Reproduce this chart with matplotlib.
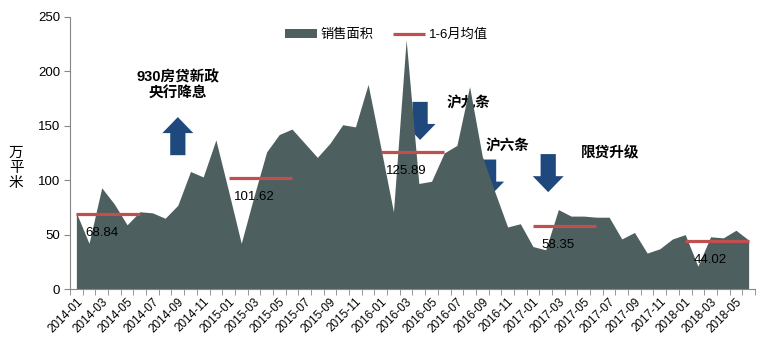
import matplotlib
matplotlib.use('Agg')
import matplotlib.pyplot as plt
from matplotlib.patches import Polygon
import numpy as np

plt.rcParams['font.family'] = ['Liberation Sans', 'Noto Sans CJK SC']

# monthly sales area, 2014-01 .. 2018-06
months = [f'{y}-{m:02d}' for y in range(2014, 2019) for m in range(1, 13)][:54]
sales = [70, 42, 93, 78, 59, 71, 70, 65, 77, 108, 103, 137,
         90, 42, 85, 126, 142, 147, 134, 121, 134, 151, 149, 188,
         130, 71, 229, 97, 99, 125, 132, 186, 122, 89, 57, 60,
         39, 36, 73, 67, 67, 66, 66, 46, 52, 33, 37, 46,
         50, 21, 48, 47, 54, 45]

# Jan-Jun averages
avg_start = [0, 12, 24, 36, 48]
avg_vals = [68.84, 101.62, 125.89, 58.35, 44.02]

# policy events: (x month index, label y, text, arrow dir, arrow tail y)
events = [
    (8.0, 187, '930房贷新政\n央行降息', 'up', 123),
    (30.9, 170, '沪九条', 'down', 172),
    (34.0, 131, '沪六条', 'down', 119),
    (42.1, 125, '限贷升级', 'down', 124),
]
arrow_x = [8.0, 27.1, 32.5, 37.2]

area_color = '#4e5f5f'
red = '#c0504d'
blue = '#1f497d'

fig = plt.figure(figsize=(7.66, 3.54), dpi=100)
ax = fig.add_axes([0.0914, 0.1836, 0.8942, 0.7684])

x = np.arange(len(sales))

# arrows (behind the area)
hw, sw, L, hl = 1.22, 0.6, 35, 14.7
for (ex, ty, txt, d, tail), axx in zip(events, arrow_x):
    if d == 'up':
        b = tail
        pts = [(axx - sw, b), (axx + sw, b), (axx + sw, b + L - hl), (axx + hw, b + L - hl),
               (axx, b + L), (axx - hw, b + L - hl), (axx - sw, b + L - hl)]
    else:
        t = tail
        pts = [(axx - sw, t), (axx + sw, t), (axx + sw, t - L + hl), (axx + hw, t - L + hl),
               (axx, t - L), (axx - hw, t - L + hl), (axx - sw, t - L + hl)]
    ax.add_patch(Polygon(pts, closed=True, facecolor=blue, edgecolor='none', zorder=1))
    ax.text(ex, ty, txt, ha='center', va='center', fontsize=10.5, fontweight='bold',
            linespacing=1.25, zorder=1)

ax.fill_between(x, sales, 0, color=area_color, lw=0, zorder=2, label='销售面积')

for i, (s, v) in enumerate(zip(avg_start, avg_vals)):
    ax.plot([s, s + 5], [v, v], color=red, lw=2.3, solid_capstyle='butt', zorder=3,
            label='1-6月均值' if i == 0 else None)
    ax.text(s + 2.0, v - 17.5, f'{v:.2f}', ha='center', va='center', fontsize=9.5, zorder=4)

ax.set_xlim(-0.5, 53.5)
ax.set_ylim(0, 250)
ax.set_yticks(range(0, 251, 50))
ax.set_xticks(x[::2])
ax.set_xticklabels(months[::2], rotation=45, ha='right', rotation_mode='anchor', fontsize=8.5)
ax.set_xticks(np.arange(-0.5, 54, 1), minor=True)
ax.tick_params(axis='x', which='major', length=0, pad=5)
ax.tick_params(axis='x', which='minor', length=4, color='#868686')
ax.tick_params(axis='y', length=4, color='#868686', labelsize=9.5, pad=3)

for side in ['top', 'right']:
    ax.spines[side].set_visible(False)
for side in ['left', 'bottom']:
    ax.spines[side].set_color('#868686')

fig.text(0.021, 0.525, '万\n平\n米', ha='center', va='center', fontsize=10.5, linespacing=1.1)

ax.legend(loc='upper center', bbox_to_anchor=(0.462, 1.0), ncol=2, frameon=False,
          fontsize=9.5, handlelength=2.4, columnspacing=1.5, handletextpad=0.3)

fig.savefig('out.png', dpi=100)
